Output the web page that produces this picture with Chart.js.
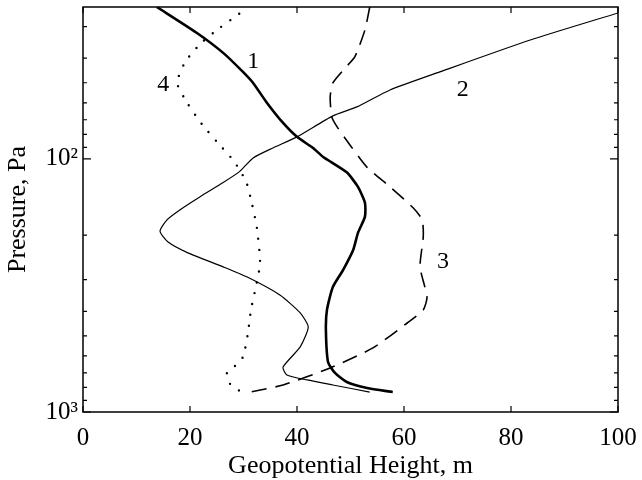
<!DOCTYPE html>
<html>
<head>
<meta charset="utf-8">
<style>
    html, body { margin: 0; padding: 0; background: #fff; }
    #wrap { width: 642px; height: 480px; }
</style>
<script src="https://cdn.jsdelivr.net/npm/chart.js@4/dist/chart.umd.min.js"></script>
</head>
<body>
<div id="wrap"><canvas id="chart" width="642" height="480"></canvas></div>
<script>
"use strict";

// curve 1, thick solid
var curve1X = [13.8, 21.3, 26.2, 29.9, 31.8, 34.4, 37.4, 40.0, 43.0, 44.9, 49.3, 51.4, 52.7, 52.7, 51.4, 50.5, 48.6, 46.7, 45.6, 45.4, 45.8, 47.1, 49.3, 53.1, 57.9];
var curve1P = [25.1, 31.8, 38.1, 45.3, 50.1, 60.1, 72.1, 81.8, 90.5, 98.2, 113, 129, 149, 169, 196, 229, 275, 321, 395, 474, 634, 701, 761, 804, 834];

// curve 2, thin solid
var curve2X = [100, 83.6, 66.7, 57.4, 51.2, 46.7, 40.0, 35.5, 31.8, 29.3, 26.2, 21.9, 18.1, 15.7, 14.4, 15.9, 19.6, 26.2, 30.7, 36.8, 40.6, 42.1, 40.6, 37.4, 38.1, 41.9, 46.7, 53.6];
var curve2P = [26.5, 33.9, 45.3, 53.4, 62.3, 67.6, 81.8, 90.5, 99.1, 112, 124, 141, 159, 174, 193, 213, 235, 267, 293, 345, 406, 461, 553, 664, 714, 747, 782, 834];

// curve 3, dashed
var curve3X = [53.6, 52.7, 50.8, 49.0, 46.7, 46.2, 46.5, 47.5, 49.9, 53.1, 57.4, 61.7, 63.4, 63.6, 63.0, 64.3, 63.6, 60.6, 54.2, 46.2, 37.4, 31.2];
var curve3P = [25.1, 30.9, 39.5, 43.7, 50.1, 56.9, 68.2, 74.7, 88.1, 108, 129, 156, 174, 203, 267, 351, 395, 445, 558, 670, 782, 834];

// curve 4, dotted
var curve4X = [29.2, 25.6, 22.1, 19.1, 17.6, 19.6, 22.2, 25.2, 28.2, 30.5, 31.6, 32.5, 33.1, 32.3, 31.4, 30.8, 29.9, 28.4, 26.9, 27.5, 29.3];
var curve4P = [26.7, 30.3, 34.8, 41.4, 50.1, 60.6, 72.8, 86.4, 102, 123, 151, 187, 258, 321, 395, 492, 606, 658, 701, 775, 826];

// curve numbers written next to the lines
var curveNames = ["1", "2", "3", "4"];
var curveNameX = [31.8, 71.0, 67.3, 15.0];
var curveNameP = [41.4, 53.4, 255, 51.0];

var xTicks = [0, 20, 40, 60, 80, 100];
var yTicks = [30, 40, 50, 60, 70, 80, 90, 100, 200, 300, 400, 500, 600, 700, 800, 900, 1000];
var yMajorTicks = [100, 1000];
var yMajorLabels = ["10\u00b2", "10\u00b3"];

var FONT = "'Liberation Serif', 'Times New Roman', serif";

function toPoints(xs, ps) {
    var pts = [];
    for (var i = 0; i < xs.length; i++) {
        pts.push({ x: xs[i], y: ps[i] });
    }
    return pts;
}

// box round the plot, inward ticks on all four sides, curve numbers
var frameTicks = {
    id: "frameTicks",
    afterDraw: function (chart) {
        var ctx = chart.ctx,
            area = chart.chartArea,
            xs = chart.scales.x,
            ys = chart.scales.y;

        ctx.save();
        ctx.strokeStyle = "#000";
        ctx.lineWidth = 1.5;
        ctx.strokeRect(area.left, area.top, area.right - area.left, area.bottom - area.top);

        ctx.lineWidth = 1.2;
        ctx.beginPath();
        xTicks.forEach(function (v) {
            var px = xs.getPixelForValue(v);
            ctx.moveTo(px, area.bottom);
            ctx.lineTo(px, area.bottom - 6);
            ctx.moveTo(px, area.top);
            ctx.lineTo(px, area.top + 6);
        });
        yTicks.forEach(function (v) {
            var py = ys.getPixelForValue(v),
                len = yMajorTicks.indexOf(v) >= 0 ? 8 : 4;
            ctx.moveTo(area.left, py);
            ctx.lineTo(area.left + len, py);
            ctx.moveTo(area.right, py);
            ctx.lineTo(area.right - len, py);
        });
        ctx.stroke();

        ctx.fillStyle = "#000";
        ctx.font = "24px " + FONT;
        ctx.textAlign = "center";
        ctx.textBaseline = "middle";
        curveNames.forEach(function (name, i) {
            ctx.fillText(name, xs.getPixelForValue(curveNameX[i]), ys.getPixelForValue(curveNameP[i]));
        });
        ctx.restore();
    }
};

var chart = new Chart(document.getElementById("chart"), {
    type: "line",
    data: {
        datasets: [
            {
                data: toPoints(curve1X, curve1P),
                borderColor: "#000",
                borderWidth: 2.6,
                tension: 0.2
            },
            {
                data: toPoints(curve2X, curve2P),
                borderColor: "#000",
                borderWidth: 1.2,
                tension: 0.2
            },
            {
                data: toPoints(curve3X, curve3P),
                borderColor: "#000",
                borderWidth: 1.6,
                borderDash: [15, 9],
                tension: 0.2
            },
            {
                data: toPoints(curve4X, curve4P),
                borderColor: "#000",
                borderWidth: 2.4,
                borderDash: [0, 11],
                borderCapStyle: "round",
                tension: 0.2
            }
        ]
    },
    options: {
        responsive: false,
        animation: false,
        devicePixelRatio: 1,
        layout: { padding: { top: 7, right: 24, left: 0, bottom: 0 } },
        elements: { point: { radius: 0 } },
        plugins: {
            legend: { display: false },
            tooltip: { enabled: false }
        },
        scales: {
            x: {
                type: "linear",
                min: 0,
                max: 100,
                grid: { display: false, drawTicks: false },
                border: { display: false },
                afterBuildTicks: function (scale) {
                    scale.ticks = xTicks.map(function (v) { return { value: v }; });
                },
                afterFit: function (scale) {
                    scale.height = 68;
                    scale.paddingLeft = 0;
                    scale.paddingRight = 0;
                },
                ticks: {
                    color: "#000",
                    padding: 11,
                    font: { family: FONT, size: 25 },
                    maxRotation: 0
                },
                title: {
                    display: true,
                    text: "Geopotential Height, m",
                    color: "#000",
                    font: { family: FONT, size: 26, lineHeight: 1 },
                    padding: { top: 0, bottom: 1 }
                }
            },
            y: {
                type: "logarithmic",
                reverse: true,
                min: 25.1,
                max: 1000,
                grid: { display: false, drawTicks: false },
                border: { display: false },
                afterBuildTicks: function (scale) {
                    scale.ticks = yTicks.map(function (v) { return { value: v }; });
                },
                afterFit: function (scale) {
                    scale.width = 83;
                    scale.paddingTop = 0;
                    scale.paddingBottom = 0;
                },
                ticks: {
                    color: "#000",
                    padding: 5,
                    autoSkip: false,
                    font: { family: FONT, size: 25 },
                    callback: function (value) {
                        var idx = yMajorTicks.indexOf(value);
                        return idx >= 0 ? yMajorLabels[idx] : "";
                    }
                },
                title: {
                    display: true,
                    text: "Pressure, Pa",
                    color: "#000",
                    font: { family: FONT, size: 26 },
                    padding: { top: 3, bottom: 0 }
                }
            }
        }
    },
    plugins: [frameTicks]
});
</script>
</body>
</html>
